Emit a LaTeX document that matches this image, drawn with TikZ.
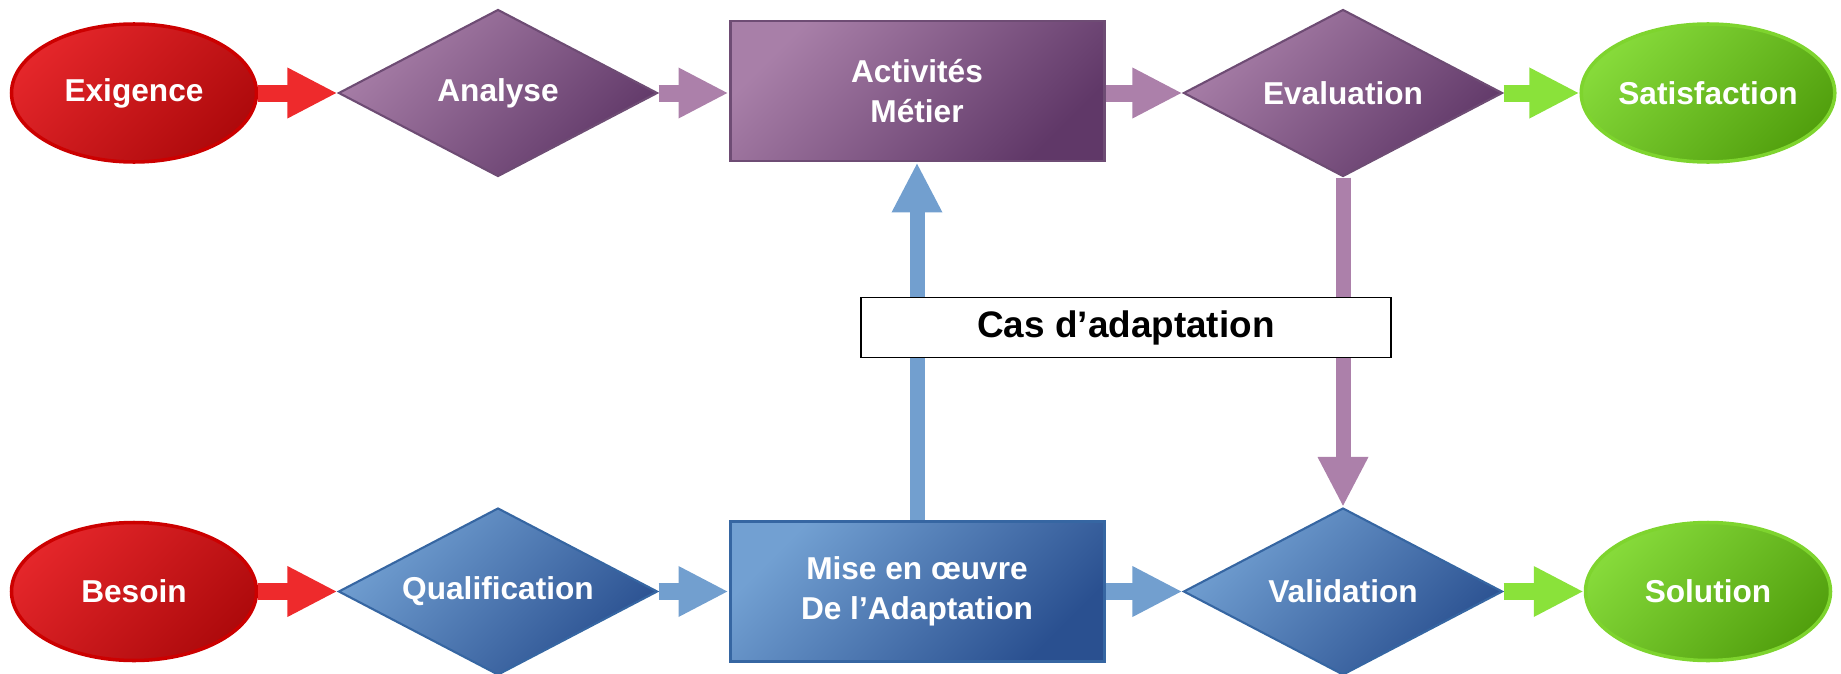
\documentclass[tikz,border=0pt]{standalone}
\usepackage{fontspec}
\setmainfont{Liberation Sans}
\usetikzlibrary{shapes.geometric,arrows.meta}
\definecolor{rouge}{HTML}{E4262A}
\definecolor{rougefonce}{HTML}{AE0A0C}
\definecolor{rougebord}{HTML}{CC0000}
\definecolor{rougefleche}{HTML}{EE2A2C}
\definecolor{mauve}{HTML}{A87FA8}
\definecolor{mauvefonce}{HTML}{603868}
\definecolor{mauvebord}{HTML}{6E4C74}
\definecolor{mauvefleche}{HTML}{AC80AA}
\definecolor{bleu}{HTML}{72A0D2}
\definecolor{bleufonce}{HTML}{2A5090}
\definecolor{bleubord}{HTML}{3666A2}
\definecolor{bleufleche}{HTML}{729FCF}
\definecolor{vert}{HTML}{86DA3A}
\definecolor{vertfonce}{HTML}{52A00E}
\definecolor{vertbord}{HTML}{7ED42E}
\definecolor{vertfleche}{HTML}{8AE23A}

\begin{document}
\begin{tikzpicture}[
    every node/.style={font=\fontsize{18}{23}\selectfont\bfseries, text=white, align=center},
    ovale/.style={ellipse, inner sep=0pt, minimum width=4.9cm, minimum height=2.76cm, line width=2pt},
    losange/.style={diamond, aspect=1.91, inner sep=0pt, minimum width=6.38cm, minimum height=3.34cm, line width=1.2pt},
    boite/.style={rectangle, minimum width=7.48cm, minimum height=2.8cm, line width=1.7pt},
    rouge degrade/.style={draw=rougebord, top color=rouge, bottom color=rougefonce, shading angle=45},
    mauve degrade/.style={draw=mauvebord, top color=mauve, bottom color=mauvefonce, shading angle=45},
    bleu degrade/.style={draw=bleubord, top color=bleu, bottom color=bleufonce, shading angle=45},
    vert degrade/.style={draw=vertbord, top color=vert, bottom color=vertfonce, shading angle=45},
    fleche/.style={line width=0.34cm, -{Triangle[length=1cm, width=0.94cm]}},
    cas/.style={draw=black, fill=white, text=black, line width=0.6pt, minimum width=10.6cm,
        minimum height=1.2cm, font=\fontsize{21}{25}\selectfont\bfseries}
    ]
    \useasboundingbox (0,0) rectangle (36.82,-13.48);

    % ligne du haut
    \node [ovale, rouge degrade] (exigence) at (2.68,-1.86) {Exigence};
    \node [losange, mauve degrade] (analyse) at (9.96,-1.86) {Analyse};
    \node [boite, mauve degrade] (activites) at (18.34,-1.82) {Activités\\Métier};
    \node [losange, mauve degrade] (evaluation) at (26.86,-1.86) {Evaluation};
    \node [ovale, vert degrade] (satisfaction) at (34.16,-1.86) {Satisfaction};

    % ligne du bas
    \node [ovale, rouge degrade] (besoin) at (2.68,-11.83) {Besoin};
    \node [losange, bleu degrade] (qualification) at (9.96,-11.83) {Qualification};
    \node [boite, bleu degrade] (mise) at (18.34,-11.83) {Mise en œuvre\\De l’Adaptation};
    \node [losange, bleu degrade] (validation) at (26.86,-11.83) {Validation};
    \node [ovale, vert degrade] (solution) at (34.16,-11.83) {Solution};

    \draw [fleche, rougefleche] (exigence) -- (analyse);
    \draw [fleche, mauvefleche] (analyse) -- (activites.west |- analyse);
    \draw [fleche, mauvefleche] (activites.east |- evaluation) -- (evaluation);
    \draw [fleche, vertfleche] (evaluation) -- (satisfaction);

    \draw [fleche, rougefleche] (besoin) -- (qualification);
    \draw [fleche, bleufleche] (qualification) -- (mise);
    \draw [fleche, bleufleche] (mise) -- (validation);
    \draw [fleche, vertfleche] (validation) -- (solution);

    % les deux fleches verticales
    \draw [fleche, line width=0.3cm, bleufleche] (mise) -- (activites);
    \draw [fleche, line width=0.3cm, mauvefleche] (evaluation) -- (validation);

    \node [cas] (adaptation) at (22.52,-6.55) {Cas d’adaptation};
\end{tikzpicture}
\end{document}
